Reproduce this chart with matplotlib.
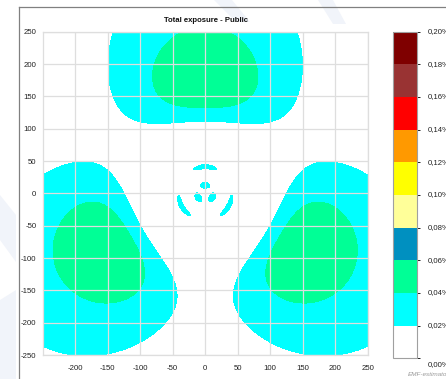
import numpy as np
import matplotlib
matplotlib.use("Agg")
import matplotlib.pyplot as plt
from matplotlib.colors import ListedColormap, BoundaryNorm
from matplotlib.lines import Line2D
from matplotlib.patches import Polygon
from matplotlib.transforms import blended_transform_factory, offset_copy

plt.rcParams["font.family"] = ["Liberation Sans", "DejaVu Sans"]
plt.rcParams["axes.unicode_minus"] = False

# ---- chart content ----
title = "Total exposure - Public"
footer = "EMF-estimator"
levels = [0.00, 0.02, 0.04, 0.06, 0.08, 0.10, 0.12, 0.14, 0.16, 0.18, 0.20]
level_colors = ["#ffffff", "#00ffff", "#00ff96", "#0090c0", "#ffff99",
                "#ffff00", "#ff9900", "#ff0000", "#993333", "#7f0000"]
x_ticks = [-200, -150, -100, -50, 0, 50, 100, 150, 200, 250]
y_ticks = [-250, -200, -150, -100, -50, 0, 50, 100, 150, 200, 250]
extent_m = [-250, 250]

# ---- site model: three-sector antenna mast ----
sector_azimuth_deg = [0, 120, 240]
antenna_height_m = 30.0
eirp_w = 3400.0
limit_w_m2 = 10.0
h_beamwidth_deg = 69.0
v_beamwidth_deg = 9.84
downtilt_deg = 6.0
sidelobe_depression_deg = [35.9, 67.0]
sidelobe_level_db = [-16.1, -19.9]
sidelobe_width_deg = [5.5, 14.0]
front_back_db = 25.0
vertical_floor_db = 30.0
total_floor_db = 30.0

# ---- exposure field on the ground plane ----
xs = np.linspace(extent_m[0], extent_m[1], 1201)
X, Y = np.meshgrid(xs, xs)
dist = np.hypot(X, Y)
r2 = dist ** 2 + antenna_height_m ** 2
depression = np.degrees(np.arctan2(antenna_height_m, dist))
bearing = np.degrees(np.arctan2(X, Y))

gv_lin = 10 ** (-np.minimum(12 * ((depression - downtilt_deg) / v_beamwidth_deg) ** 2,
                            vertical_floor_db) / 10)
for a, lvl, w in zip(sidelobe_depression_deg, sidelobe_level_db, sidelobe_width_deg):
    gv_lin = gv_lin + 10 ** ((lvl - 12 * ((depression - a) / w) ** 2) / 10)
gv_db = 10 * np.log10(gv_lin)

gain = np.zeros_like(X)
for az in sector_azimuth_deg:
    phi = (bearing - az + 180) % 360 - 180
    gh_db = -np.minimum(12 * (phi / h_beamwidth_deg) ** 2, front_back_db)
    g_db = -np.minimum(-(gh_db + gv_db), total_floor_db)
    gain += 10 ** (g_db / 10)

exposure_pct = 100 * eirp_w * gain / (4 * np.pi * r2) / limit_w_m2

# ---- figure ----
W, H = 446, 379
fig = plt.figure(figsize=(W / 100, H / 100), dpi=100)
fig.patch.set_facecolor("white")


def px(x, y):
    return (x / W, 1 - y / H)


# faint background logo strokes
for pts in ([(214, 0), (232, 0), (250, 22), (236, 22)],
            [(318, 0), (333, 0), (346, 24), (333, 24)],
            [(0, 195), (16, 215), (16, 262), (0, 240)],
            [(0, 300), (16, 290), (16, 379), (0, 379)]):
    fig.add_artist(Polygon([px(*p) for p in pts], closed=True, transform=fig.transFigure,
                           facecolor="#f1f4fa", edgecolor="none", zorder=0))

ax = fig.add_axes([42.7 / W, 1 - 355 / H, 325 / W, 323.3 / H])
cmap = ListedColormap(level_colors)
norm = BoundaryNorm(levels, cmap.N)
cs = ax.contourf(X, Y, exposure_pct, levels=levels, cmap=cmap, norm=norm)
ax.set_xlim(extent_m)
ax.set_ylim(extent_m)
ax.set_xticks(x_ticks)
ax.set_yticks(y_ticks)
ax.grid(True, color="#dedede", lw=0.9)
ax.set_axisbelow(False)
ax.tick_params(axis="x", length=0, labelsize=5.6, pad=7.5, labelcolor="#222222")
ax.tick_params(axis="y", length=0, labelsize=5.6, pad=4.6, labelcolor="#222222")
for sp in ax.spines.values():
    sp.set_color("#dedede")
    sp.set_linewidth(0.9)

fig.text(206.5 / W, 1 - 20 / H, title, ha="center", va="center",
         fontsize=5.6, fontweight="bold", color="#111111")

# colour scale
cax = fig.add_axes([393.3 / W, 1 - 358.3 / H, 23.4 / W, 326.6 / H])
cb = fig.colorbar(cs, cax=cax)
cb.set_ticks([])
cb.outline.set_edgecolor("#a0a0a0")
cb.outline.set_linewidth(0.8)
trans = blended_transform_factory(cax.transAxes, cax.transData)
for i, v in enumerate(levels):
    t = trans if i > 0 else offset_copy(trans, fig=fig, y=-4.5, units="points")
    cax.text(1.48, v, f"{v:.2f}%".replace(".", ","), transform=t,
             ha="left", va="center", fontsize=5.6, color="#222222", clip_on=False)

fig.text(408 / W, 1 - 374.5 / H, footer, ha="left", va="center",
         fontsize=4.6, style="italic", color="#9a9a9a")

# panel frame
fig.add_artist(Line2D([18.5 / W, 1], [1 - 7 / H, 1 - 7 / H], transform=fig.transFigure,
                      color="#808080", lw=0.9))
fig.add_artist(Line2D([18.5 / W, 18.5 / W], [0, 1 - 7 / H], transform=fig.transFigure,
                      color="#808080", lw=0.9))

fig.savefig("out.png", dpi=100)
